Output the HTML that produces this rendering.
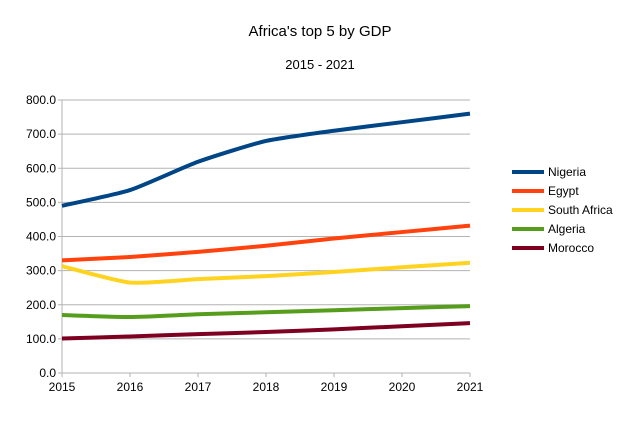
<!DOCTYPE html>
<html><head><meta charset="utf-8"><style>
body{margin:0;background:#fff;}
svg{display:block;font-family:"Liberation Sans",sans-serif;}
</style></head><body>
<svg id="c" width="640" height="426">
<text x="320" y="36" text-anchor="middle" font-size="15" fill="#000">Africa's top 5 by GDP</text>
<text x="320" y="69" text-anchor="middle" font-size="13" fill="#000">2015 - 2021</text>
<g id="grid"></g><g id="series"></g><g id="legend"></g>
</svg>
<script>
const years=[2015,2016,2017,2018,2019,2020,2021];
const yTicks=[0,100,200,300,400,500,600,700,800];
const names=["Nigeria","Egypt","South Africa","Algeria","Morocco"];
const colors=["#004586","#ff420e","#ffd320","#579d1c","#7e0021"];
const nigeria=[490,536,619,680,710,735,760];
const egypt=[330,340,355,373,394,413,432];
const southAfrica=[313,265,275,284,296,310,323];
const algeria=[170,164,172,178,184,190,196];
const morocco=[101,107,114,120,128,137,146];
const series=[nigeria,egypt,southAfrica,algeria,morocco];
const NS="http://www.w3.org/2000/svg";
const X0=62,X1=470,Y0=373,Y1=100;
const xs=y=>X0+(y-years[0])/(years[years.length-1]-years[0])*(X1-X0);
const ys=v=>Y0-v/800*(Y0-Y1);
function mk(t,a,p){const e=document.createElementNS(NS,t);for(const k in a)e.setAttribute(k,a[k]);p.appendChild(e);return e;}
const g=document.getElementById('grid');
yTicks.forEach(t=>{
 const l=mk('line',{x1:X0-4,x2:X1,y1:ys(t),y2:ys(t),stroke:'#b3b3b3','stroke-width':1},g);
 
 
 const tx=mk('text',{x:X0-6,y:ys(t)+4,'text-anchor':'end','font-size':12,fill:'#000'},g);
 tx.textContent=t.toFixed(1);
 
 
});
const ax=mk('line',{x1:X0,x2:X0,y1:Y1,y2:Y0+4,stroke:'#b3b3b3'},g);


years.forEach(yr=>{
 const l=mk('line',{x1:xs(yr),x2:xs(yr),y1:Y0,y2:Y0+4,stroke:'#b3b3b3'},g);
 
 
 const tx=mk('text',{x:xs(yr),y:Y0+18,'text-anchor':'middle','font-size':12,fill:'#000'},g);
 tx.textContent=yr;
 
 
});
const sg=document.getElementById('series');
series.forEach((s,i)=>{
 const p=s.map((v,j)=>[xs(years[j]),ys(v)]);
 let d='M'+p[0][0]+','+p[0][1];
 for(let j=0;j<p.length-1;j++){
  const a=p[Math.max(0,j-1)],b=p[j],c=p[j+1],e=p[Math.min(p.length-1,j+2)];
  const t=0.1;
  d+=' C'+(b[0]+(c[0]-a[0])*t)+','+(b[1]+(c[1]-a[1])*t)+' '+(c[0]-(e[0]-b[0])*t)+','+(c[1]-(e[1]-b[1])*t)+' '+c[0]+','+c[1];
 }
 const path=mk('path',{d:d,fill:'none',stroke:colors[i],'stroke-width':4,'stroke-linejoin':'round'},sg);
 
 
});
const lg=document.getElementById('legend');
names.forEach((n,i)=>{
 const y=172+i*19;
 const l=mk('line',{x1:512,x2:544,y1:y,y2:y,stroke:colors[i],'stroke-width':4},lg);
 
 
 const tx=mk('text',{x:548,y:y+4,'font-size':12,fill:'#000'},lg);
 tx.textContent=n;
 
 
});
</script>
</body></html>
